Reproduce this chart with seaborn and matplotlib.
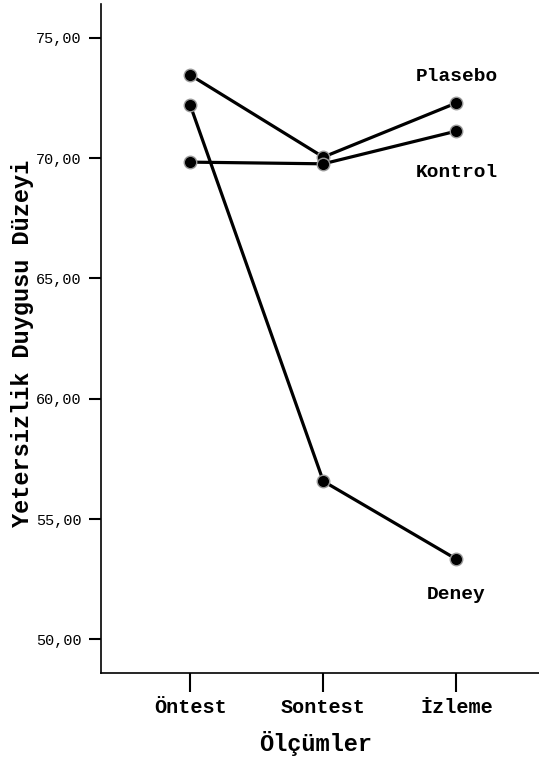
import matplotlib
matplotlib.use("Agg")
import matplotlib.pyplot as plt
import seaborn as sns
import pandas as pd

olcumler = ["Öntest", "Sontest", "İzleme"]
gruplar = ["Plasebo", "Kontrol", "Deney"]
plasebo = [73.45, 70.04, 72.29]
kontrol = [69.83, 69.76, 71.12]
deney = [72.20, 56.57, 53.33]
y_ticks = [50, 55, 60, 65, 70, 75]

rows = []
for g, vals in zip(gruplar, [plasebo, kontrol, deney]):
    for i, (o, v) in enumerate(zip(olcumler, vals)):
        rows.append({"Grup": g, "Ölçüm": o, "idx": i, "Değer": v})
df = pd.DataFrame(rows)

sns.set_style("white")
plt.rcParams['font.family'] = ['Liberation Mono', 'DejaVu Sans']
plt.rcParams['text.color'] = 'black'
plt.rcParams['axes.labelcolor'] = 'black'
plt.rcParams['xtick.color'] = 'black'
plt.rcParams['ytick.color'] = 'black'

fig = plt.figure(figsize=(5.39, 7.58), dpi=100)
ax = fig.add_axes([0.1874, 0.1121, 0.8126, 0.8826])

sns.lineplot(data=df, x="idx", y="Değer", hue="Grup", palette=["black"] * 3,
             marker="o", markersize=9, markeredgecolor="#9a9a9a", markeredgewidth=1.0,
             linewidth=2.3, legend=False, ax=ax, sort=False)

ax.set_xlim(-0.67, 2.62)
ax.set_ylim(48.6, 76.4)
ax.set_xticks(range(len(olcumler)))
ax.set_xticklabels(olcumler, fontsize=14.5, fontweight="bold")
ax.set_yticks(y_ticks)
ax.set_yticklabels([f"{t:.2f}".replace(".", ",") for t in y_ticks], fontsize=11)
ax.tick_params(axis="x", direction="out", length=14, width=1.5, pad=4, color="black")
ax.tick_params(axis="y", direction="out", length=9, width=1.5, pad=5, color="black")
ax.tick_params(bottom=True, left=True)
for s in ["top", "right"]:
    ax.spines[s].set_visible(False)
for s in ["left", "bottom"]:
    ax.spines[s].set_color("black")
    ax.spines[s].set_linewidth(1.2)

ax.set_xlabel("Ölçümler", fontsize=17, fontweight="bold")
ax.set_ylabel("Yetersizlik Duygusu Düzeyi", fontsize=17, fontweight="bold")
ax.xaxis.set_label_coords(0.489, -0.105)
ax.xaxis.label.set_va("center")
ax.yaxis.set_label_coords(-0.18, 0.492)
ax.yaxis.label.set_va("center")

label_pos = {"Plasebo": 73.37, "Kontrol": 69.38, "Deney": 51.87}
for g in gruplar:
    ax.text(2, label_pos[g], g, ha="center", va="center", fontsize=14, fontweight="bold")

fig.savefig("out.png", dpi=100)
